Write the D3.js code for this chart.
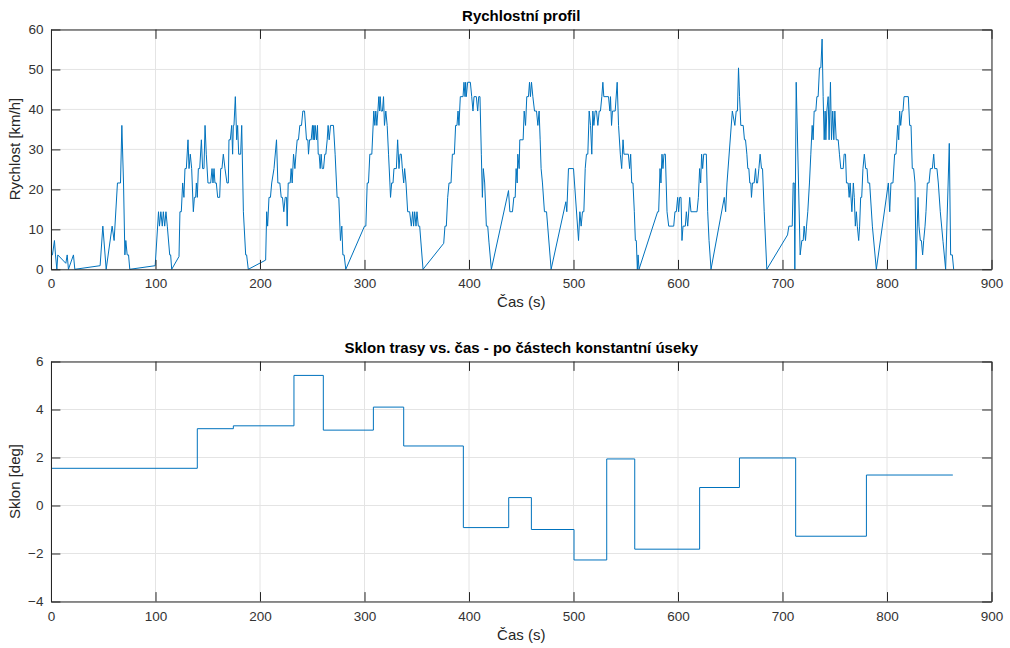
<!DOCTYPE html>
<html>
<head>
<meta charset="utf-8">
<script src="https://cdn.jsdelivr.net/npm/d3@7"></script>
<style>
  body { margin: 0; background: #fff; }
  svg { display: block; font-family: "Liberation Sans", Arial, sans-serif; }
  .tick text { fill: #333; font-size: 13.5px; }
  .grid line { stroke: #e4e4e4; stroke-width: 1; }
</style>
</head>
<body>
<div id="chart"></div>
<script>
// speed profile: time [s] and speed [km/h]
var speedTime = [0, 1.4, 3.3, 4.3, 5.6, 6.5, 14.2, 15.5, 16.7, 21.5, 22.8, 47, 49.6, 52.8, 58.5, 60.4, 63.6, 66.5, 67.8, 69.4,
  70.7, 71.6, 72.9, 74.2, 75.4, 99.7, 102.9, 103.8, 105.1, 106.5, 107.5, 108.8, 110, 111.3, 113.6, 114.5, 115.5, 122.5, 123.4, 124.7,
  126, 127.2, 128.2, 129.5, 131.1, 132.1, 133.3, 134.6, 136.2, 137.2, 138.4, 139.1, 140, 141, 142.3, 143.9, 145.1, 146.4, 147.4, 148.6,
  150.2, 152.8, 154.1, 155, 156, 156.9, 158.2, 159.5, 161.4, 162.4, 163.6, 164.9, 166.5, 168.4, 169.7, 170.3, 171.6, 172.9, 173.8, 174.5,
  175.1, 176.4, 177.7, 178.6, 179.6, 181.5, 182.5, 184.1, 186.3, 187.2, 188.8, 205.4, 206.4, 207.3, 208.6, 210, 211.2, 213.4, 215.8, 217.1,
  219, 220.3, 221.5, 222.8, 224.1, 225.4, 226, 227, 228.9, 229.8, 230.8, 232.1, 233.4, 234.4, 235.6, 236.8, 238.1, 239.7, 241, 242.6,
  244.5, 245.8, 246.4, 247.4, 249, 250.2, 250.9, 251.5, 252.2, 252.8, 254.1, 255, 255.7, 256.6, 257.6, 258.5, 259.5, 260.8, 262, 263,
  264.3, 265.2, 266.2, 267.5, 270.3, 271.9, 273.8, 275.4, 277, 278.3, 279.3, 280.5, 282.1, 300, 301.3, 302.6, 303.8, 305.1, 307, 308.9,
  309.9, 310.8, 311.8, 312.8, 313.7, 314.4, 315, 315.9, 317.2, 318.2, 319.1, 320.4, 321.7, 323, 324.3, 324.9, 326, 327.3, 328.2, 330.5,
  331.7, 333, 334, 335.2, 336.2, 337.5, 338.4, 339.7, 341.3, 343.2, 344.8, 346.1, 347, 348, 349.3, 350.2, 351.5, 352.8, 356, 375.8,
  377, 378.3, 379.6, 380.9, 382.8, 384.1, 386, 387.2, 388.5, 389.5, 390.4, 391.7, 394.3, 395.2, 396.2, 396.8, 397.4, 398.7, 401.3, 402.6,
  403.8, 404.8, 407, 408.3, 409.3, 410.5, 411.8, 412.8, 413.7, 415, 416.6, 417.9, 419.1, 421.4, 437.8, 439.1, 441.6, 442.9, 444.2, 445.1,
  446.1, 446.7, 448, 448.6, 451.8, 452.8, 454.1, 455.3, 456.9, 457.9, 458.8, 459.8, 461.1, 462.7, 464.6, 465.9, 467.1, 468.1, 469, 470.3,
  472.2, 474.2, 478.6, 492.7, 493.6, 495.2, 500, 504.8, 506.1, 507.3, 508.6, 509.9, 511.2, 512.4, 513.7, 515, 516.3, 517.5, 518.5, 519.5,
  520.7, 522, 523.3, 524.6, 525.8, 527.1, 528.1, 529, 533.5, 534.8, 535.4, 536.4, 537.3, 539.9, 541.8, 543.1, 544.8, 546.1, 547.4, 548.3,
  552.5, 553.7, 554.7, 555.7, 556.9, 558.2, 559.2, 560.1, 561.1, 561.8, 562.7, 580.5, 581.5, 582.8, 583.7, 584.7, 585.6, 586.6, 587.9, 589.5,
  591.1, 595.9, 597.1, 598.4, 599.7, 600.6, 601.6, 602.9, 603.8, 604.8, 607, 608, 609.3, 611.2, 612.4, 618.2, 619.5, 620.7, 621.7, 622.6,
  623.6, 624.6, 627.1, 628.4, 629.7, 631.6, 644.3, 645.6, 646.9, 652, 654.4, 655.7, 656.9, 657.9, 658.9, 660.1, 662.4, 663.6, 664.6, 665.9,
  666.8, 667.8, 668.7, 669.7, 670.3, 671.3, 672.9, 674.2, 675.1, 676.1, 677.4, 678.6, 679.9, 680.9, 682.5, 685, 704.8, 706.1, 709.3, 710.2,
  711.2, 711.8, 713.1, 716.9, 718.5, 719.8, 720.7, 722, 723, 724.2, 725.8, 727.1, 728.4, 729.3, 730.3, 731.9, 732.9, 734.1, 735.4, 736.7,
  737.9, 738.9, 739.9, 740.8, 741.5, 742.4, 743.7, 744.6, 745.9, 746.9, 748.1, 749.1, 750.1, 751.4, 753.3, 754.5, 755.8, 758.1, 759, 760.3,
  761.2, 762.8, 763.8, 764.7, 766.4, 767.8, 768.7, 769.7, 770.7, 771.6, 772.9, 773.8, 774.8, 775.8, 777, 778.3, 779.6, 780.9, 781.8, 783.4,
  786, 789.8, 801.3, 802.6, 803.8, 805.7, 807.3, 808.6, 810.2, 811.2, 812.1, 813.1, 814.4, 815.3, 816.3, 820.4, 821.7, 823, 824.2, 825.5,
  826.8, 827.8, 829.7, 830.6, 831.9, 832.9, 834.1, 835.1, 836.4, 837.3, 838.6, 840.2, 841.5, 843.4, 844.7, 845.6, 847.8, 849.1, 851, 853.6,
  856.1, 859.6, 860.9, 862.5, 863.8];
var speedValue = [3.6, 3.6, 7.2, 3.6, 0, 3.6, 1.5, 3.6, 0, 3.6, 0, 0.9, 10.8, 0, 10.8, 7.2, 21.6, 21.6, 36, 21.6,
  3.6, 7.2, 3.6, 3.6, 0, 0.9, 14.4, 10.8, 14.4, 10.8, 14.4, 10.8, 14.4, 10.8, 3.6, 3.6, 0, 3.2, 14.4, 14.4,
  21.6, 18, 25.2, 25.2, 32.4, 25.2, 28.8, 25.2, 14.4, 18, 18, 21.6, 18, 25.2, 25.2, 32.4, 25.2, 25.2, 36, 28.8,
  21.6, 21.6, 25.2, 21.6, 25.2, 21.6, 21.6, 18, 18, 25.2, 25.2, 28.8, 25.2, 21.6, 21.6, 32.4, 32.4, 36, 28.8, 36,
  36, 43.2, 32.4, 36, 28.8, 28.8, 36, 14.4, 3.6, 3.6, 0, 2.3, 14.4, 10.8, 18, 18, 21.6, 25.2, 32.4, 21.6,
  21.6, 18, 18, 14.4, 18, 18, 10.8, 21.6, 21.6, 25.2, 21.6, 28.8, 25.2, 28.8, 32.4, 32.4, 36, 36, 39.6, 39.6,
  32.4, 32.4, 28.8, 32.4, 32.4, 36, 32.4, 36, 32.4, 36, 32.4, 36, 28.8, 28.8, 25.2, 28.8, 25.2, 25.2, 28.8, 28.8,
  32.4, 36, 32.4, 36, 36, 28.8, 18, 18, 7.2, 10.8, 3.6, 3.6, 0, 10.8, 10.8, 21.6, 21.6, 28.8, 28.8, 39.6,
  36, 39.6, 36, 39.6, 43.2, 39.6, 43.2, 39.6, 39.6, 43.2, 36, 39.6, 36, 28.8, 21.6, 18, 21.6, 21.6, 25.2, 25.2,
  32.4, 25.2, 28.8, 28.8, 25.2, 21.6, 25.2, 21.6, 14.4, 14.4, 10.8, 14.4, 10.8, 14.4, 10.8, 14.4, 10.8, 10.8, 0, 6.5,
  10.8, 10.8, 18, 21.6, 21.6, 28.8, 28.8, 36, 36, 39.6, 36, 43.2, 43.2, 46.8, 43.2, 46.8, 43.2, 46.8, 46.8, 43.2,
  39.6, 43.2, 43.2, 39.6, 43.2, 43.2, 28.8, 18, 25.2, 21.6, 10.8, 10.8, 6.8, 0, 19.7, 14.4, 14.4, 18, 18, 25.2,
  21.6, 28.8, 25.2, 32.4, 32.4, 39.6, 36, 43.2, 43.2, 46.8, 43.2, 46.8, 43.2, 39.6, 39.6, 36, 39.6, 32.4, 25.2, 21.6,
  14.4, 14.4, 0, 16.9, 14.4, 25.2, 25.2, 7.2, 14.4, 10.8, 14.4, 14.4, 25.2, 28.8, 28.8, 39.6, 36, 28.8, 39.6, 36,
  39.6, 39.6, 36, 39.6, 39.6, 43.2, 46.8, 43.2, 43.2, 39.6, 43.2, 36, 39.6, 39.6, 46.8, 36, 28.8, 25.2, 32.4, 28.8,
  28.8, 25.2, 28.8, 21.6, 21.6, 14.4, 7.2, 7.2, 0, 3.6, 0, 14.4, 14.4, 25.2, 21.6, 28.8, 25.2, 28.8, 28.8, 14.4,
  10.8, 10.8, 14.4, 14.4, 18, 14.4, 18, 18, 7.2, 10.8, 10.8, 14.4, 10.8, 18, 14.4, 14.4, 18, 25.2, 21.6, 28.8,
  25.2, 28.8, 28.8, 14.4, 7.2, 0, 18, 14.4, 21.6, 39.6, 36, 39.6, 39.6, 50.4, 43.2, 36, 36, 32.4, 32.4, 28.8,
  25.2, 25.2, 21.6, 21.6, 18, 21.6, 21.6, 25.2, 21.6, 21.6, 25.2, 28.8, 25.2, 25.2, 14.4, 0, 8.6, 10.8, 10.8, 21.6,
  21.6, 0, 46.8, 3.6, 7.2, 7.2, 10.8, 7.2, 10.8, 14.4, 21.6, 28.8, 36, 32.4, 39.6, 39.6, 43.2, 43.2, 50.4, 50.4,
  57.6, 43.2, 32.4, 39.6, 32.4, 39.6, 43.2, 32.4, 46.8, 32.4, 39.6, 32.4, 39.6, 32.4, 32.4, 28.8, 25.2, 25.2, 28.8, 28.8,
  21.6, 21.6, 18, 21.6, 14.4, 21.6, 18, 10.8, 14.4, 10.8, 7.2, 10.8, 18, 18, 25.2, 28.8, 25.2, 25.2, 21.6, 21.6,
  10.8, 0, 21.6, 14.4, 21.6, 21.6, 28.8, 28.8, 36, 32.4, 39.6, 36, 39.6, 39.6, 43.2, 43.2, 36, 36, 25.2, 25.2,
  21.6, 0, 18, 10.8, 7.2, 7.2, 3.6, 7.2, 10.8, 14.4, 21.6, 21.6, 25.2, 25.2, 28.8, 25.2, 25.2, 21.6, 14.4, 7,
  0, 31.5, 3.6, 3.6, 0];

// slope: piecewise constant sections (start time [s], slope [deg])
var slopeStart = [0, 140, 174.5, 232.5, 260.6, 308.5, 337.5, 394.6, 438, 459.7, 500.5, 531.8, 558.6, 620.7, 658.8, 712.6, 780.3, 863];
var slopeValue = [1.55, 3.2, 3.32, 5.42, 3.14, 4.1, 2.48, -0.92, 0.33, -1.0, -2.27, 1.94, -1.82, 0.75, 1.98, -1.28, 1.27, 1.27];

var xTicks = [0, 100, 200, 300, 400, 500, 600, 700, 800, 900];
var speedTicks = [0, 10, 20, 30, 40, 50, 60];
var slopeTicks = [-4, -2, 0, 2, 4, 6];

var svgWidth = 1010, svgHeight = 648;
var left = 51, right = 991.5;
var tickLen = 9.4;

var svg = d3.select("#chart").append("svg").attr("width", svgWidth).attr("height", svgHeight);

function drawPanel(cfg) {
  var x = d3.scaleLinear().domain([0, 900]).range([left, right]);
  var y = d3.scaleLinear().domain(cfg.yDomain).range([cfg.bottom, cfg.top]);
  var g = svg.append("g");

  // grid
  var grid = g.append("g").attr("class", "grid");
  grid.selectAll(".gx").data(xTicks).enter().append("line")
    .attr("x1", d => x(d)).attr("x2", d => x(d)).attr("y1", cfg.top).attr("y2", cfg.bottom);
  grid.selectAll(".gy").data(cfg.yTicks).enter().append("line")
    .attr("y1", d => y(d)).attr("y2", d => y(d)).attr("x1", left).attr("x2", right);

  // data line
  g.append("path").datum(cfg.data)
    .attr("fill", "none").attr("stroke", "#0072BD").attr("stroke-width", 1)
    .attr("stroke-linejoin", "round")
    .attr("d", d3.line().x(d => x(d[0])).y(d => y(d[1])).curve(cfg.curve));

  // axes (ticks point inside, box on)
  var axB = g.append("g").attr("transform", `translate(0,${cfg.bottom})`)
    .call(d3.axisBottom(x).tickValues(xTicks).tickSizeInner(-tickLen).tickSizeOuter(0).tickPadding(9.5));
  var axT = g.append("g").attr("transform", `translate(0,${cfg.top})`)
    .call(d3.axisTop(x).tickValues(xTicks).tickSizeInner(-tickLen).tickSizeOuter(0).tickFormat(""));
  var axL = g.append("g").attr("transform", `translate(${left},0)`)
    .call(d3.axisLeft(y).tickValues(cfg.yTicks).tickSizeInner(-tickLen).tickSizeOuter(0).tickPadding(7.5));
  var axR = g.append("g").attr("transform", `translate(${right},0)`)
    .call(d3.axisRight(y).tickValues(cfg.yTicks).tickSizeInner(-tickLen).tickSizeOuter(0).tickFormat(""));
  [axB, axT, axL, axR].forEach(function(a) {
    a.attr("font-family", null).attr("font-size", null);
    a.selectAll("path, line").attr("stroke", "#262626");
  });

  // title and labels
  g.append("text").attr("x", (left + right) / 2).attr("y", cfg.top - 9)
    .attr("text-anchor", "middle").attr("font-weight", "bold").attr("font-size", 15)
    .attr("fill", "#000").text(cfg.title);
  g.append("text").attr("x", (left + right) / 2).attr("y", cfg.bottom + 38)
    .attr("text-anchor", "middle").attr("font-size", 15).attr("fill", "#262626").text("Čas (s)");
  g.append("text").attr("transform", `translate(20,${cfg.yLabelY}) rotate(-90)`)
    .attr("text-anchor", "middle").attr("font-size", 15).attr("fill", "#262626").text(cfg.yLabel);
}

drawPanel({
  top: 29.5, bottom: 269.3, yDomain: [0, 60], yTicks: speedTicks,
  data: speedTime.map((t, i) => [t, speedValue[i]]), curve: d3.curveLinear,
  title: "Rychlostní profil", yLabel: "Rychlost [km/h]", yLabelY: 149
});

drawPanel({
  top: 361.5, bottom: 601.5, yDomain: [-4, 6], yTicks: slopeTicks,
  data: slopeStart.map((t, i) => [t, slopeValue[i]]), curve: d3.curveStepAfter,
  title: "Sklon trasy vs. čas - po částech konstantní úseky", yLabel: "Sklon [deg]", yLabelY: 481.5
});
</script>
</body>
</html>
